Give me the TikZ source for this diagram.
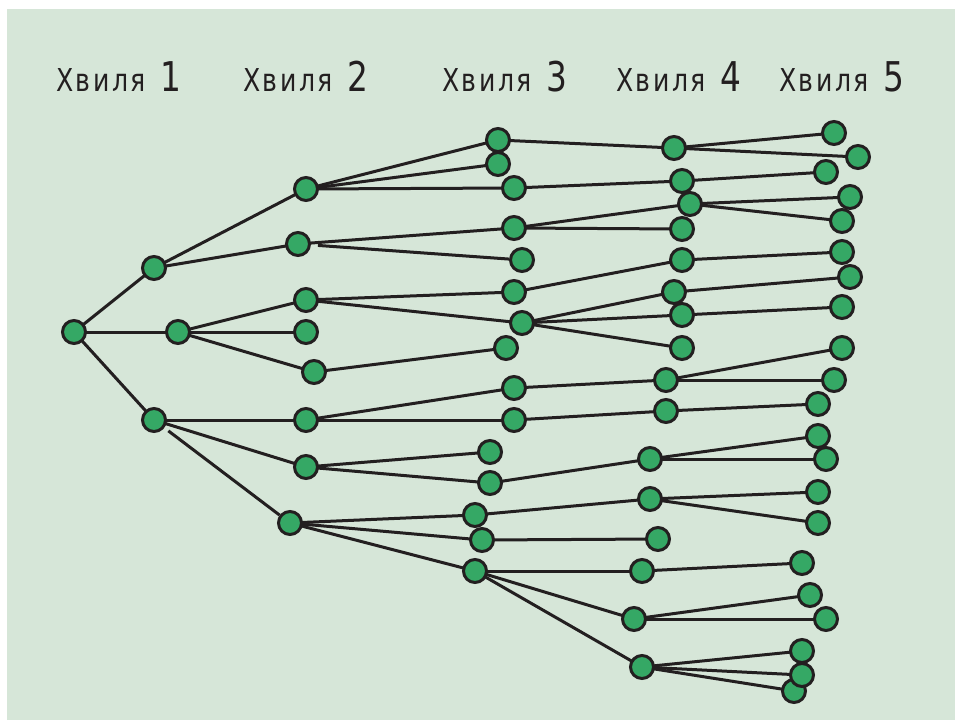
\documentclass[tikz,border=0pt]{standalone}
\usepackage{fontspec}
\setmainfont{Liberation Sans}
\newfontfamily\wavefont[FakeStretch=0.8, LetterSpace=8]{DejaVu Sans}
\newfontfamily\wavedigit[FakeStretch=0.8]{DejaVu Sans}
\definecolor{paper}{HTML}{D6E6D8}
\definecolor{leaf}{HTML}{35A865}
\definecolor{ink}{HTML}{231F20}
\pgfdeclarelayer{bglayer}
\pgfdeclarelayer{edgelayer}
\pgfsetlayers{bglayer,edgelayer,main}
\tikzset{
  dot/.style={circle, draw=ink, fill=leaf, line width=3pt, minimum size=23pt, inner sep=0pt},
  link/.style={draw=ink, line width=3pt},
  wave/.style={anchor=base west, inner sep=0pt, text=ink, font=\wavefont\fontsize{31.5}{31.5}\selectfont},
}
\newcommand{\wavelabel}[1]{Хвиля\hspace{14pt}{\wavedigit\fontsize{41}{41}\selectfont #1}}
\begin{document}
\begin{tikzpicture}[x=1pt,y=-1pt]
\useasboundingbox (0,0) rectangle (955,720);
\begin{pgfonlayer}{bglayer}
\fill[white] (0,0) rectangle (955,720);
\fill[paper] (7,9) rectangle (955,720);
\end{pgfonlayer}
% labels
\node[wave] (w1) at (56,91) {\wavelabel{1}};
\node[wave] (w2) at (243,91) {\wavelabel{2}};
\node[wave] (w3) at (442,91) {\wavelabel{3}};
\node[wave] (w4) at (616,91) {\wavelabel{4}};
\node[wave] (w5) at (779,91) {\wavelabel{5}};
% root and wave 1
\node[dot] (R) at (74,332) {};
\node[dot] (A1) at (154,268) {};
\node[dot] (A2) at (178,332) {};
\node[dot] (A3) at (154,420) {};
% wave 2
\node[dot] (B1) at (306,189) {};
\node[dot] (B2) at (298,244) {};
\node[dot] (B3) at (306,300) {};
\node[dot] (B4) at (306,332) {};
\node[dot] (B5) at (314,372) {};
\node[dot] (B6) at (306,420) {};
\node[dot] (B7) at (306,467) {};
\node[dot] (B8) at (290,523) {};
% wave 3
\node[dot] (C1) at (498,140) {};
\node[dot] (C2) at (498,164) {};
\node[dot] (C3) at (514,188) {};
\node[dot] (C4) at (514,228) {};
\node[dot] (C5) at (522,260) {};
\node[dot] (C6) at (514,292) {};
\node[dot] (C7) at (522,323) {};
\node[dot] (C8) at (506,348) {};
\node[dot] (C9) at (514,388) {};
\node[dot] (C10) at (514,420) {};
\node[dot] (C11) at (490,452) {};
\node[dot] (C12) at (490,483) {};
\node[dot] (C13) at (475,515) {};
\node[dot] (C14) at (482,540) {};
\node[dot] (C15) at (475,571) {};
% wave 4
\node[dot] (D1) at (674,148) {};
\node[dot] (D2) at (682,181) {};
\node[dot] (D3) at (690,204) {};
\node[dot] (D4) at (682,229) {};
\node[dot] (D5) at (682,260) {};
\node[dot] (D6) at (674,292) {};
\node[dot] (D7) at (682,315) {};
\node[dot] (D8) at (682,348) {};
\node[dot] (D9) at (666,380) {};
\node[dot] (D10) at (666,411) {};
\node[dot] (D11) at (650,459) {};
\node[dot] (D12) at (650,499) {};
\node[dot] (D13) at (658,539) {};
\node[dot] (D14) at (642,571) {};
\node[dot] (D15) at (634,619) {};
\node[dot] (D16) at (642,667) {};
% wave 5
\node[dot] (E1) at (834,133) {};
\node[dot] (E2) at (858,157) {};
\node[dot] (E3) at (826,172) {};
\node[dot] (E4) at (850,197) {};
\node[dot] (E5) at (842,221) {};
\node[dot] (E6) at (842,252) {};
\node[dot] (E7) at (850,277) {};
\node[dot] (E8) at (842,307) {};
\node[dot] (E9) at (842,348) {};
\node[dot] (E10) at (834,380) {};
\node[dot] (E11) at (818,404) {};
\node[dot] (E12) at (818,436) {};
\node[dot] (E13) at (826,459) {};
\node[dot] (E14) at (818,492) {};
\node[dot] (E15) at (818,523) {};
\node[dot] (E16) at (802,563) {};
\node[dot] (E17) at (810,595) {};
\node[dot] (E18) at (826,619) {};
\node[dot] (E19) at (802,651) {};
\node[dot] (E21) at (794,691) {};
\node[dot] (E20) at (802,675) {};
% connectors
\begin{pgfonlayer}{edgelayer}
\foreach \a/\b in {R/A1,R/A2,R/A3,
  A1/B1,A1/B2,A2/B3,A2/B4,A2/B5,A3/B6,A3/B7,
  B1/C1,B1/C2,B1/C3,B2/C4,B3/C6,B3/C7,B5/C8,B6/C9,B6/C10,B7/C11,B7/C12,B8/C13,B8/C14,B8/C15,
  C1/D1,C3/D2,C4/D3,C4/D4,C6/D5,C7/D6,C7/D7,C7/D8,C9/D9,C10/D10,C12/D11,C13/D12,C14/D13,C15/D14,C15/D15,C15/D16,
  D1/E1,D1/E2,D2/E3,D3/E4,D3/E5,D5/E6,D6/E7,D7/E8,D9/E9,D9/E10,D10/E11,D11/E12,D11/E13,D12/E14,D12/E15,D14/E16,D15/E17,D15/E18,D16/E19,D16/E20,D16/E21}
  \draw[link] (\a.center) -- (\b.center);
\draw[link, shorten <=5pt] (A3) -- (B8);
\draw[link, shorten <=7pt] (B2) -- (C5);
\end{pgfonlayer}
\end{tikzpicture}
\end{document}
